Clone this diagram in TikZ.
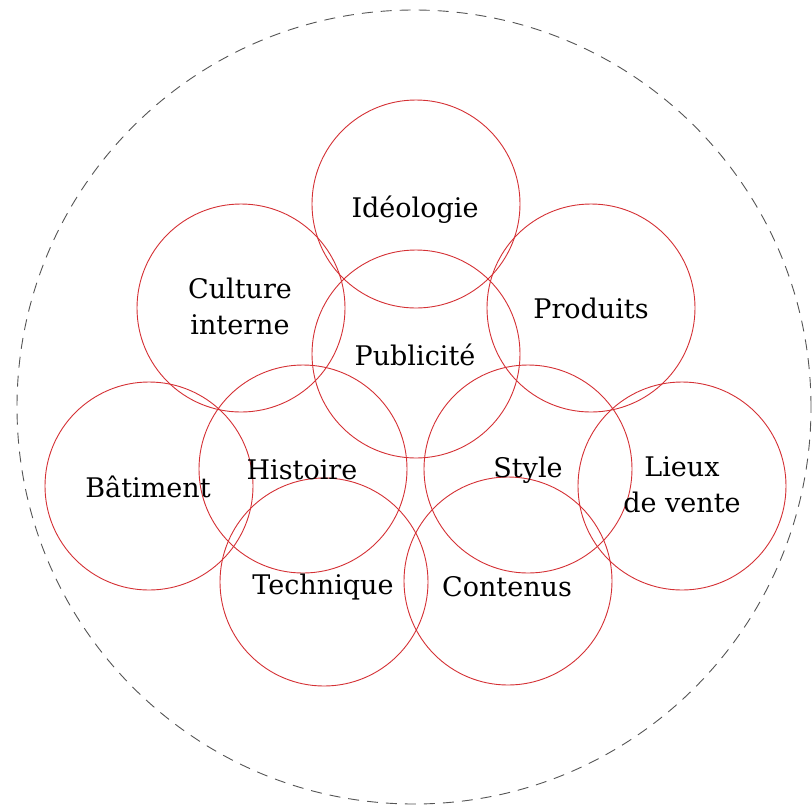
\documentclass[tikz,border=0pt]{standalone}
\usepackage{fontspec}
\setmainfont{DejaVu Serif}
\definecolor{ringred}{RGB}{212,48,52}
\definecolor{dashgray}{RGB}{85,85,85}
\begin{document}
\begin{tikzpicture}[x=1pt,y=-1pt,
  ring/.style={circle,draw=ringred,line width=0.9pt,minimum size=208pt,inner sep=0pt},
  lbl/.style={font=\fontsize{27}{36}\selectfont,align=center,text=black,inner sep=0pt}]
\useasboundingbox (0,0) rectangle (812,807);
\draw[dashgray,line width=0.9pt,dash pattern=on 11pt off 8pt] (414,407) circle[radius=397pt];
\node[ring] (ideo) at (416,204) {};
\node[ring] (cult) at (241,308) {};
\node[ring] (prod) at (591,308) {};
\node[ring] (pub)  at (416,354) {};
\node[ring] (bat)  at (149,486) {};
\node[ring] (hist) at (303,469) {};
\node[ring] (styl) at (528,469) {};
\node[ring] (lieu) at (682,486) {};
\node[ring] (tech) at (324,582) {};
\node[ring] (cont) at (508,581) {};
\node[lbl] (tideo) at (415,210) {Idéologie};
\node[lbl] (tcult) at (240,306) {Culture\\interne};
\node[lbl] (tprod) at (591,308) {Produits};
\node[lbl] (tpub)  at (415,355) {Publicité};
\node[lbl] (tbat)  at (148,487) {Bâtiment};
\node[lbl] (thist) at (302,470) {Histoire};
\node[lbl] (tstyl) at (528,470) {Style};
\node[lbl] (tlieu) at (682,485) {Lieux\\de vente};
\node[lbl] (ttech) at (323,587) {Technique};
\node[lbl] (tcont) at (507,587) {Contenus};
\end{tikzpicture}
\end{document}
